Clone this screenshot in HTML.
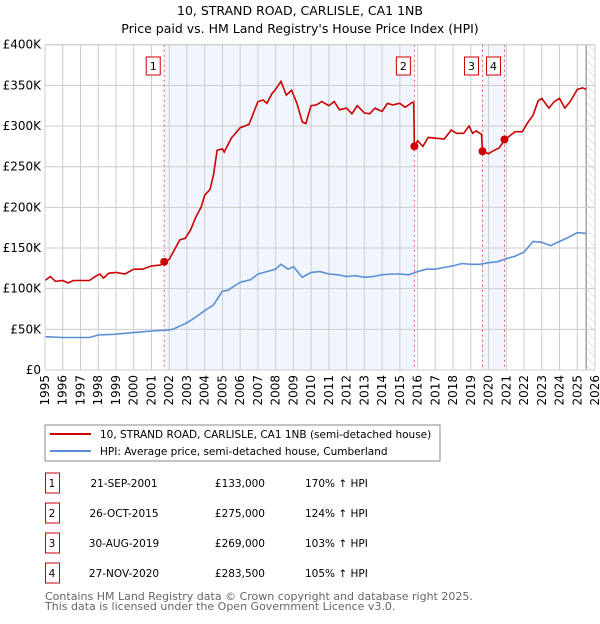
<!DOCTYPE html>
<html><head><meta charset="utf-8"><style>
body{margin:0;background:#fff;width:600px;height:620px;overflow:hidden;font-family:"DejaVu Sans","Liberation Sans",sans-serif}
svg text{font-family:"DejaVu Sans","Liberation Sans",sans-serif}
</style></head><body>
<svg id="c" width="600" height="620">
<defs><pattern id="hatch" width="6" height="6" patternUnits="userSpaceOnUse" patternTransform="rotate(-45)"><line x1="0" y1="0" x2="0" y2="6" stroke="#ccc" stroke-width="1"/></pattern></defs>
<text x="300" y="15" text-anchor="middle" font-size="12.5">10, STRAND ROAD, CARLISLE, CA1 1NB</text>
<text x="300" y="33" text-anchor="middle" font-size="12.5">Price paid vs. HM Land Registry's House Price Index (HPI)</text>
<g id="plot"></g>
<rect x="45" y="425" width="395" height="36" fill="#fff" stroke="#888"/>
<line x1="50" y1="434" x2="91" y2="434" stroke="#cc0000" stroke-width="2"/>
<text x="100" y="438" font-size="10.5">10, STRAND ROAD, CARLISLE, CA1 1NB (semi-detached house)</text>
<line x1="50" y1="451" x2="91" y2="451" stroke="#5b8fd4" stroke-width="2"/>
<text x="100" y="455" font-size="10.5">HPI: Average price, semi-detached house, Cumberland</text>
<g id="table"></g>
<text x="45" y="600" font-size="11" fill="#666">Contains HM Land Registry data © Crown copyright and database right 2025.</text>
<text x="45" y="610" font-size="11" fill="#666">This data is licensed under the Open Government Licence v3.0.</text>
</svg>
<script>
const redDates=[1995,1995.3,1995.6,1996,1996.3,1996.6,1997,1997.5,1997.9,1998.1,1998.3,1998.6,1999,1999.5,2000,2000.5,2001,2001.5,2001.72,2002,2002.3,2002.6,2002.9,2003.2,2003.5,2003.8,2004,2004.3,2004.5,2004.7,2005,2005.1,2005.5,2006,2006.5,2007,2007.3,2007.5,2007.8,2008,2008.3,2008.6,2008.9,2009.2,2009.5,2009.7,2010,2010.3,2010.6,2011,2011.3,2011.6,2012,2012.3,2012.6,2013,2013.3,2013.6,2014,2014.3,2014.6,2015,2015.3,2015.7,2015.78,2015.82,2016,2016.3,2016.6,2017,2017.5,2017.9,2018.2,2018.6,2018.9,2019.1,2019.3,2019.6,2019.66,2020,2020.3,2020.6,2020.9,2021.2,2021.5,2021.9,2022.2,2022.5,2022.8,2023,2023.4,2023.7,2024,2024.3,2024.6,2025,2025.3,2025.5];
const redValues=[110,115,109,110,107,110,110,110,116,118,113,119,120,118,124,124,128,129,133,136,148,160,162,172,188,200,215,222,240,270,272,268,285,298,302,330,332,328,340,345,355,338,344,328,305,303,325,326,330,325,330,320,322,315,325,316,315,322,318,328,326,328,323,329,329,275,282,275,286,285,284,295,291,291,300,291,294,290,269,266,270,273,283,288,293,293,304,313,331,334,322,330,334,322,330,345,347,345];
const hpiDates=[1995,1996,1997,1997.5,1998,1999,2000,2001,2001.8,2002.2,2003,2003.5,2004,2004.5,2005,2005.3,2006,2006.6,2007,2007.5,2008,2008.3,2008.7,2009,2009.5,2010,2010.5,2011,2011.5,2012,2012.5,2013,2013.5,2014,2014.5,2015,2015.5,2016,2016.5,2017,2017.5,2018,2018.5,2019,2019.5,2020,2020.5,2021,2021.5,2022,2022.5,2023,2023.5,2024,2024.5,2025,2025.5];
const hpiValues=[41,40,40,40,43,44,46,48,49,50,58,65,73,80,97,98,108,111,118,121,124,130,124,127,114,120,121,118,117,115,116,114,115,117,118,118,117,121,124,124,126,128,131,130,130,132,133,137,140,145,158,157,153,158,163,169,168];
const saleDates=[2001.72,2015.82,2019.66,2020.9];
const saleValues=[133,275,269,283.5];
const saleLabels=["1","2","3","4"];
const saleDateText=["21-SEP-2001","26-OCT-2015","30-AUG-2019","27-NOV-2020"];
const salePriceText=["£133,000","£275,000","£269,000","£283,500"];
const saleHpiText=["170% ↑ HPI","124% ↑ HPI","103% ↑ HPI","105% ↑ HPI"];
const yTicks=[0,50,100,150,200,250,300,350,400];
const yTickLabels=["£0","£50K","£100K","£150K","£200K","£250K","£300K","£350K","£400K"];
const xYears=[1995,1996,1997,1998,1999,2000,2001,2002,2003,2004,2005,2006,2007,2008,2009,2010,2011,2012,2013,2014,2015,2016,2017,2018,2019,2020,2021,2022,2023,2024,2025,2026];

const NS="http://www.w3.org/2000/svg";
const X0=45,X1=595,Y0=370,Y1=44.7;
const xs=y=>X0+(y-1995)/(2026-1995)*(X1-X0);
const ys=v=>Y0-v/400*(Y0-Y1);
const plot=document.getElementById('plot');
function mk(tag,attrs,parent){const e=document.createElementNS(NS,tag);for(const k in attrs)e.setAttribute(k,attrs[k]);(parent||plot).appendChild(e);return e;}

let bg=mk('rect',{x:X0,y:Y1,width:X1-X0,height:Y0-Y1,fill:'#fff'});


for(let i=0;i<saleDates.length;i+=2){
  const a=saleDates[i],b=saleDates[i+1];
  let s=mk('rect',{x:xs(a),y:Y1,width:xs(b)-xs(a),height:Y0-Y1,fill:'#eef3fc',opacity:0.8});
  
  
}
let h=mk('rect',{x:xs(2025.5),y:Y1,width:X1-xs(2025.5),height:Y0-Y1,fill:'url(#hatch)'});


let hl=mk('line',{x1:xs(2025.5),x2:xs(2025.5),y1:Y1,y2:Y0,stroke:'#777','stroke-width':1});


yTicks.forEach((t,i)=>{
  let g=mk('line',{x1:X0,x2:X1,y1:ys(t),y2:ys(t),stroke:'#ccc'});
  
  
  let l=mk('text',{x:X0-4,y:ys(t)+4,'text-anchor':'end','font-size':12});
  l.textContent=yTickLabels[i];
  
  
});
xYears.forEach(yr=>{
  let g=mk('line',{x1:xs(yr),x2:xs(yr),y1:Y1,y2:Y0,stroke:'#ccc'});
  
  
  let l=mk('text',{x:0,y:0,'text-anchor':'end','font-size':12,transform:`translate(${xs(yr)+4},${Y0+5}) rotate(-90)`});
  l.textContent=yr;
  
  
});
saleDates.forEach((d,i)=>{
  let v=mk('line',{x1:xs(d),x2:xs(d),y1:Y1,y2:Y0,stroke:'#e06060','stroke-dasharray':'2,3'});
  
  
  let b=mk('rect',{x:xs(d)-18,y:57,width:14,height:18,fill:'#fff',stroke:'#c00'});
  
  
  let t=mk('text',{x:xs(d)-11,y:70,'text-anchor':'middle','font-size':11});
  t.textContent=saleLabels[i];
  
  
});
const pts=(d,v)=>d.map((x,i)=>xs(x).toFixed(1)+','+ys(v[i]).toFixed(1)).join(' ');
let hp=mk('polyline',{points:pts(hpiDates,hpiValues),fill:'none',stroke:'#5b8fd4','stroke-width':1.6});


let rp=mk('polyline',{points:pts(redDates,redValues),fill:'none',stroke:'#cc0000','stroke-width':1.6});


saleDates.forEach((d,i)=>{
  let p=mk('circle',{cx:xs(d),cy:ys(saleValues[i]),r:4,fill:'#cc0000'});
  
  
});
let fr=mk('rect',{x:X0,y:Y1,width:X1-X0,height:Y0-Y1,fill:'none',stroke:'#ccc'});



const tb=document.getElementById('table');
saleLabels.forEach((lab,i)=>{
  const cy=483+i*30;
  let b=mk('rect',{x:45.5,y:cy-10,width:14,height:20,fill:'#fff',stroke:'#c00'},tb);
  
  
  const cells=[[52,'middle',lab,'table-row-number'],[124,'middle',saleDateText[i],'table-sale-date'],[265,'end',salePriceText[i],'table-sale-price'],[305,'start',saleHpiText[i],'table-hpi-change']];
  cells.forEach(c=>{
    let t=mk('text',{x:c[0],y:cy+4,'text-anchor':c[1],'font-size':10.5},tb);
    t.textContent=c[2];
    
    
  });
});
</script>
</body></html>
